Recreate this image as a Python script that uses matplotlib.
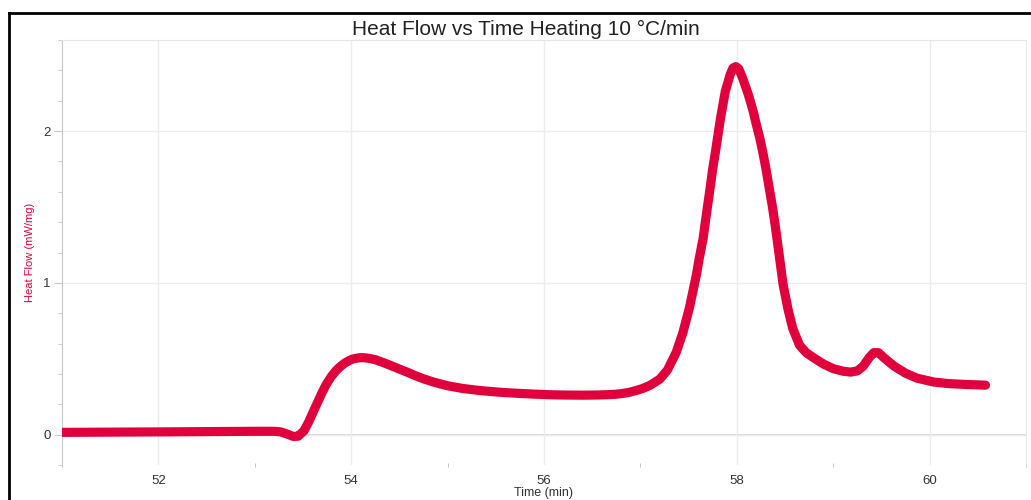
import numpy as np
import matplotlib.pyplot as plt
from matplotlib.lines import Line2D
from matplotlib.ticker import MultipleLocator

plt.rcParams['font.family'] = ['Liberation Sans', 'DejaVu Sans']

# DSC trace: heating at 10 C/min
time_min = [51.0, 52.0, 53.0, 53.2, 53.27, 53.33, 53.4, 53.45, 53.51, 53.56,
            53.62, 53.66, 53.7, 53.74, 53.79, 53.84, 53.88, 53.93, 53.97, 54.01,
            54.05, 54.09, 54.13, 54.18, 54.25, 54.32, 54.4, 54.5, 54.58, 54.66,
            54.75, 54.85, 55.0, 55.15, 55.3, 55.4, 55.53, 55.65, 55.8, 55.9,
            56.05, 56.2, 56.4, 56.55, 56.65, 56.74, 56.8, 56.88, 56.95, 57.02,
            57.1, 57.2, 57.28, 57.37, 57.44, 57.51, 57.58, 57.61, 57.65, 57.68,
            57.72, 57.75, 57.78, 57.83, 57.88, 57.93, 57.96, 57.99, 58.02, 58.06,
            58.12, 58.17, 58.2, 58.24, 58.27, 58.30, 58.34, 58.37, 58.40, 58.43,
            58.455, 58.48, 58.53, 58.58, 58.65, 58.72, 58.8, 58.9,
            59.0, 59.1, 59.18, 59.25, 59.31, 59.37, 59.42, 59.47, 59.53, 59.63,
            59.75, 59.87, 60.04, 60.2, 60.4, 60.58]
heat_flow = [0.015, 0.018, 0.022, 0.022, 0.018, 0.005, -0.012, -0.01, 0.025, 0.085,
             0.17, 0.225, 0.28, 0.33, 0.38, 0.42, 0.445, 0.47, 0.485, 0.497,
             0.503, 0.507, 0.507, 0.503, 0.494, 0.478, 0.458, 0.432, 0.412, 0.39,
             0.368, 0.347, 0.322, 0.305, 0.293, 0.287, 0.28, 0.275, 0.27, 0.267,
             0.263, 0.261, 0.26, 0.261, 0.263, 0.266, 0.27, 0.278, 0.29, 0.303,
             0.325, 0.365, 0.425, 0.54, 0.67, 0.84, 1.05, 1.16, 1.29, 1.43,
             1.61, 1.75, 1.87, 2.08, 2.26, 2.37, 2.415, 2.425, 2.41, 2.35,
             2.24, 2.13, 2.05, 1.95, 1.86, 1.76, 1.61, 1.50, 1.37, 1.23,
             1.11, 0.99, 0.83, 0.70, 0.59, 0.54, 0.505, 0.465,
             0.435, 0.418, 0.412, 0.42, 0.45, 0.505, 0.54, 0.54, 0.505, 0.452,
             0.405, 0.372, 0.347, 0.336, 0.33, 0.326]

red = '#e0003c'

fig = plt.figure(figsize=(10.31, 5.0), dpi=100)
ax = fig.add_axes([62/1031, 35/500, 964/1031, 425/500])

ax.plot(time_min, heat_flow, color=red, lw=6.6, solid_capstyle='round',
        solid_joinstyle='round', zorder=3)

ax.set_xlim(51, 61)
ax.set_ylim(-0.2, 2.6)
ax.xaxis.set_major_locator(MultipleLocator(2))
ax.xaxis.set_minor_locator(MultipleLocator(1))
ax.yaxis.set_major_locator(MultipleLocator(1))
ax.yaxis.set_minor_locator(MultipleLocator(0.2))

ax.grid(True, which='major', color='#ececec', lw=1)
ax.axhline(0, color='#d0d0d0', lw=1.2, zorder=1)

ax.spines['bottom'].set_visible(False)
ax.spines['left'].set_color('#c8c8c8')
ax.spines['top'].set_color('#e6e6e6')
ax.spines['right'].set_color('#e6e6e6')

ax.tick_params(axis='y', which='major', length=6, color='#c8c8c8',
               labelsize=9.5, labelcolor='#333333', pad=2)
ax.tick_params(axis='y', which='minor', length=3, color='#c8c8c8')
ax.tick_params(axis='x', which='major', length=0, labelsize=9.5,
               labelcolor='#333333', pad=7)
ax.tick_params(axis='x', which='minor', length=3, color='#bbbbbb',
               direction='inout')

ax.set_xlabel('Time (min)', fontsize=9, color='#333333', labelpad=0)
ax.set_ylabel('Heat Flow (mW/mg)', fontsize=8, color=red, labelpad=6)

fig.text(526/1031, 1 - 29/500, 'Heat Flow vs Time Heating 10 °C/min',
         ha='center', va='center', fontsize=15, color='#222222')

# outer frame edges
fig.add_artist(Line2D([8.5/1031, 1.0], [1 - 13/500, 1 - 13/500],
                      transform=fig.transFigure, color='black', lw=2))
fig.add_artist(Line2D([8.5/1031, 8.5/1031], [0.0, 1 - 13/500],
                      transform=fig.transFigure, color='black', lw=2))

fig.savefig('out.png', dpi=100)
